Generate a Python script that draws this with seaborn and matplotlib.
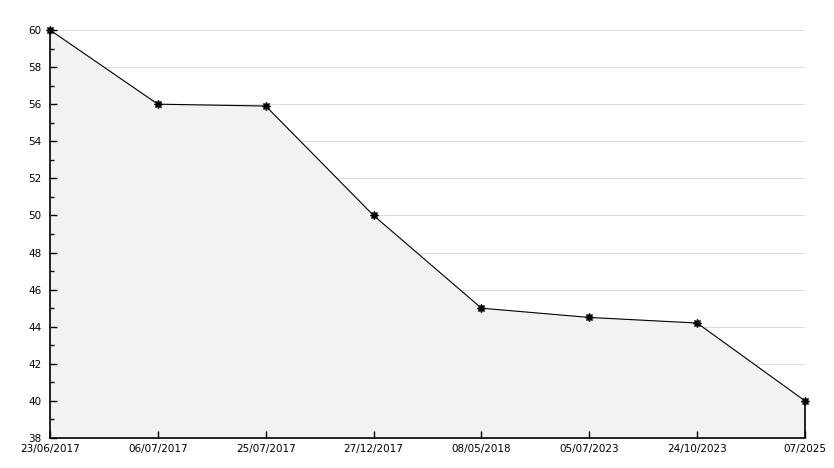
import numpy as np
import pandas as pd
import seaborn as sns
import matplotlib
matplotlib.use("Agg")
import matplotlib.pyplot as plt
from matplotlib.ticker import MultipleLocator

dates = ["23/06/2017", "06/07/2017", "25/07/2017", "27/12/2017",
         "08/05/2018", "05/07/2023", "24/10/2023", "07/2025"]
values = [60, 56, 55.9, 50, 45, 44.5, 44.2, 40]

df = pd.DataFrame({"pos": np.arange(len(dates)), "value": values})

sns.set_style("white")
plt.rcParams["font.family"] = ["DejaVu Sans"]

fig = plt.figure(figsize=(8.34, 4.68), dpi=100)
ax = fig.add_axes([50 / 834, 30 / 468, 755 / 834, 408 / 468])

# horizontal grid drawn beneath the filled area
for g in range(40, 61, 2):
    ax.axhline(g, color="#dddddd", linewidth=0.8, zorder=0.2)

ax.fill_between(df["pos"], df["value"], 38, color="#f2f2f2", zorder=1)
sns.lineplot(data=df, x="pos", y="value", ax=ax, color="black", linewidth=0.8,
             marker=(8, 1, 0), markersize=6, markeredgewidth=0.8,
             markerfacecolor="black", markeredgecolor="black", zorder=3,
             clip_on=False)
ax.vlines(df["pos"].iloc[-1], 38, values[-1], color="black", linewidth=1.2,
          zorder=2, clip_on=False)

ax.set_xlim(0, len(dates) - 1)
ax.set_ylim(38, 60)
ax.set_xticks(df["pos"])
ax.set_xticklabels(dates)
ax.yaxis.set_major_locator(MultipleLocator(2))
ax.yaxis.set_minor_locator(MultipleLocator(1))
ax.grid(False)
ax.set_axisbelow(False)

for s in ["top", "right"]:
    ax.spines[s].set_visible(False)
for s in ["left", "bottom"]:
    ax.spines[s].set_color("black")
    ax.spines[s].set_linewidth(1.2)

ax.tick_params(axis="y", which="major", left=True, direction="in", length=5, width=1,
               labelsize=7.5, pad=6, colors="black")
ax.tick_params(axis="y", which="minor", left=True, direction="in", length=3, width=1,
               color="black")
ax.tick_params(axis="x", bottom=True, direction="in", length=5, width=1, labelsize=7.5,
               pad=4, colors="black")
ax.get_yticklabels()[0].set_va("bottom")
ax.set_xlabel("")
ax.set_ylabel("")

fig.savefig("out.png", dpi=100)
